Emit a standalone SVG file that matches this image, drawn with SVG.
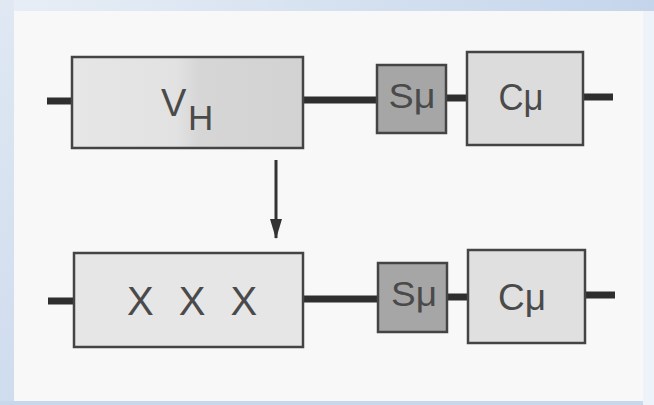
<svg xmlns="http://www.w3.org/2000/svg" width="654" height="405" viewBox="0 0 654 405">
<defs>
<linearGradient id="topBand" x1="0" y1="0" x2="1" y2="0">
<stop offset="0" stop-color="#e8eef6"/>
<stop offset="1" stop-color="#c4d5eb"/>
</linearGradient>
<linearGradient id="leftBand" x1="0" y1="0" x2="0" y2="1">
<stop offset="0" stop-color="#dfe8f3"/>
<stop offset="1" stop-color="#cfdcee"/>
</linearGradient>
<linearGradient id="vhFill" x1="0" y1="0" x2="1" y2="0">
<stop offset="0" stop-color="#e6e6e6"/>
<stop offset="0.45" stop-color="#e2e2e2"/>
<stop offset="0.55" stop-color="#d6d6d6"/>
<stop offset="1" stop-color="#d2d2d2"/>
</linearGradient>
<marker id="arrow" viewBox="0 0 20 12" refX="19" refY="6" markerWidth="20" markerHeight="12" markerUnits="userSpaceOnUse" orient="auto">
<path d="M0,0 L20,6 L0,12 Z" fill="#333"/>
</marker>
</defs>
<style>
.box{stroke:#444;stroke-width:2.5}
.cbox{fill:#dcdcdc}
.sbox{fill:#a6a6a6}
.lbl{font-family:"Liberation Sans",Arial,sans-serif;fill:#4a4a4a}
.wire{stroke:#2e2e2e;stroke-width:7;fill:none}
</style>
<rect x="0" y="0" width="654" height="405" fill="#f8f8f8"/>
<rect x="0" y="0" width="654" height="11" fill="url(#topBand)"/>
<rect x="0" y="0" width="14" height="405" fill="url(#leftBand)"/>
<rect x="0" y="401" width="654" height="4" fill="#c8d8ec"/>
<rect x="643" y="11" width="11" height="394" fill="#eef3f9"/>

<g id="connectors">
<line class="wire" x1="47" y1="101" x2="72" y2="101"/>
<line class="wire" x1="303" y1="100" x2="377" y2="100"/>
<line class="wire" x1="446" y1="98" x2="467" y2="98"/>
<line class="wire" x1="583" y1="97" x2="613" y2="97"/>
<line class="wire" x1="48" y1="301" x2="74" y2="301"/>
<line class="wire" x1="303" y1="299" x2="378" y2="299"/>
<line class="wire" x1="447" y1="297" x2="468" y2="297"/>
<line class="wire" x1="585" y1="295" x2="615" y2="295"/>
<line x1="276" y1="160" x2="276" y2="238" stroke="#333" stroke-width="3" marker-end="url(#arrow)"/>
</g>

<g id="vh">
<rect class="box" x="72" y="57" width="231" height="91" fill="url(#vhFill)"/>
<text class="lbl" x="161" y="116" font-size="38">V</text>
<text class="lbl" x="188" y="130" font-size="35">H</text>
</g>
<g id="smu1">
<rect class="box sbox" x="377" y="65" width="69" height="68"/>
<text class="lbl" x="412" y="108" font-size="35" text-anchor="middle" textLength="47" lengthAdjust="spacingAndGlyphs">Sμ</text>
</g>
<g id="cmu1">
<rect class="box cbox" x="467" y="52" width="116" height="93"/>
<text class="lbl" x="521" y="110" font-size="37" text-anchor="middle" textLength="45" lengthAdjust="spacingAndGlyphs">Cμ</text>
</g>

<g id="xxx">
<rect class="box" x="74" y="253" width="229" height="94" fill="#e6e6e6"/>
<text class="lbl" x="127" y="315" font-size="40" letter-spacing="7">X X X</text>
</g>
<g id="smu2">
<rect class="box sbox" x="378" y="263" width="69" height="69"/>
<text class="lbl" x="414" y="306" font-size="35" text-anchor="middle" textLength="46" lengthAdjust="spacingAndGlyphs">Sμ</text>
</g>
<g id="cmu2">
<rect class="box" x="468" y="250" width="117" height="93" fill="#e0e0e0"/>
<text class="lbl" x="522" y="310" font-size="37" text-anchor="middle" textLength="48" lengthAdjust="spacingAndGlyphs">Cμ</text>
</g>
</svg>
